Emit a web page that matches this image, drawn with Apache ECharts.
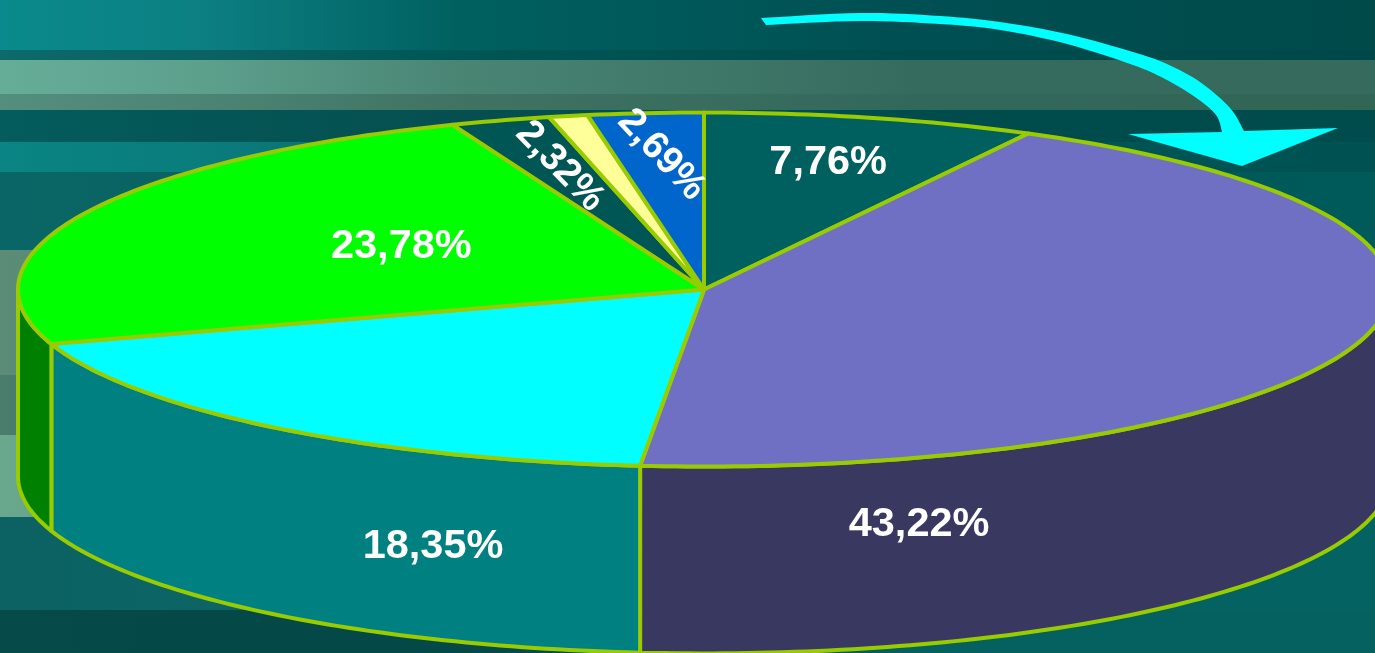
<!DOCTYPE html>
<html><head><meta charset="utf-8">
<style>html,body{margin:0;padding:0;background:#055a5a;overflow:hidden}#c{width:1375px;height:653px}</style>
<script src="https://cdn.jsdelivr.net/npm/echarts@6/dist/echarts.min.js"></script>
</head><body><div id="c"></div>
<script>
// Data: slice shares, in drawing order clockwise from 12 o'clock
var sliceValues = [7.76, 43.22, 18.35, 23.78, 2.32, 0.9, 2.69];
var sliceLabels = ['7,76%', '43,22%', '18,35%', '23,78%', '2,32%', '', '2,69%'];

// Styles
var topColors  = ['#006060', '#6F6FC4', '#00FFFF', '#00FF00', '#005555', '#FFFF99', '#0066CC'];
var wallColors = ['#004040', '#383860', '#008080', '#008000', '#003838', '#999966', '#003D7A'];
var lineColor = '#99CC00';
var depth = 1.056;   // wall height, in units of the vertical radius
// Label placement relative to the pie centre (axis units), rotation, font size
var labelX = [0.181, 0.3135, -0.395, -0.4412, -0.210, 0, -0.062];
var labelY = [0.715, -1.33, -1.455, 0.24, 0.695, 0, 0.76];
var labelRotate = [0, 0, 0, 0, -46, 0, -47];
var labelSize = [41.5, 41.5, 41.5, 41.5, 38.5, 0, 38.5];

// Background bands: y0, y1, gradient colours at x = 0, 15%, 1/3, 2/3, 1
var bands = [
  [0, 50, '#0A8A8C', '#0C7F82', '#006060', '#004F52', '#004A4A'],
  [50, 60, '#0C6A6A', '#0A6262', '#005654', '#004C4C', '#004848'],
  [60, 94, '#66AD98', '#5CA08C', '#4A8574', '#356B5F', '#356A5C'],
  [94, 110, '#548E7C', '#4C8474', '#3F7364', '#32685A', '#316656'],
  [110, 142, '#045C5C', '#045656', '#064F50', '#004C4C', '#004C4C'],
  [142, 172, '#0A8484', '#0A7C7C', '#0A6A6A', '#005656', '#005252'],
  [172, 250, '#0A6666', '#0A6262', '#085A5A', '#005858', '#005A5A'],
  [250, 375, '#5B8C78', '#558674', '#4B7D6C', '#005E5E', '#005E5E'],
  [375, 435, '#4B7D6C', '#467666', '#3F7060', '#005E5E', '#005E5E'],
  [435, 517, '#6AA88E', '#5E9A84', '#4F8A78', '#005E5E', '#005F5F'],
  [517, 610, '#0C6262', '#0C6464', '#0C6464', '#056262', '#056262'],
  [610, 653, '#064A4A', '#054848', '#054848', '#056060', '#056060']
];

var total = sliceValues.reduce(function (a, b) { return a + b; }, 0);
var sliceStart = [], acc = 0;
sliceValues.forEach(function (v) { sliceStart.push(acc / total); acc += v; });

function rimPoint(api, turn, drop) {
  var a = turn * 2 * Math.PI;
  return api.coord([Math.sin(a), Math.cos(a) - (drop || 0)]);
}
function arcPoints(api, t0, t1, drop) {
  var n = Math.max(2, Math.ceil((t1 - t0) * 360)), pts = [];
  for (var k = 0; k <= n; k++) pts.push(rimPoint(api, t0 + (t1 - t0) * k / n, drop));
  return pts;
}

function renderWall(params, api) {
  var i = params.dataIndex;
  var t0 = sliceStart[i], t1 = t0 + api.value(0) / total;
  var a = Math.max(t0, 0.25), b = Math.min(t1, 0.75);
  if (b <= a) return { type: 'group', children: [] };
  var upper = arcPoints(api, a, b, 0), lower = arcPoints(api, a, b, depth).reverse();
  return {
    type: 'polygon',
    shape: { points: upper.concat(lower) },
    style: { fill: wallColors[i], stroke: lineColor, lineWidth: 4, lineJoin: 'round' }
  };
}
function renderTop(params, api) {
  var i = params.dataIndex;
  var t0 = sliceStart[i], t1 = t0 + api.value(0) / total;
  var pts = [api.coord([0, 0])].concat(arcPoints(api, t0, t1, 0));
  return {
    type: 'polygon',
    shape: { points: pts },
    style: { fill: topColors[i], stroke: lineColor, lineWidth: 4, lineJoin: 'round' }
  };
}
function renderLabel(params, api) {
  var i = params.dataIndex;
  if (!sliceLabels[i]) return { type: 'group', children: [] };
  var p = api.coord([labelX[i], labelY[i]]);
  return {
    type: 'text',
    x: p[0], y: p[1],
    rotation: labelRotate[i] * Math.PI / 180,
    style: {
      text: sliceLabels[i], fill: '#FFFFFF', align: 'center', verticalAlign: 'middle',
      font: 'bold ' + labelSize[i] + 'px "Liberation Sans", Arial, sans-serif'
    }
  };
}

// Rotation arrow outline (decoration): edge guide points smoothed into a polygon
function smoothEdge(p, n) {
  var out = [];
  for (var s = 0; s < p.length - 1; s++) {
    var a = p[Math.max(s - 1, 0)], b = p[s], c = p[s + 1], d = p[Math.min(s + 2, p.length - 1)];
    for (var k = 0; k < n; k++) {
      var t = k / n, t2 = t * t, t3 = t2 * t;
      out.push([0, 1].map(function (j) {
        return 0.5 * (2 * b[j] + (c[j] - a[j]) * t + (2 * a[j] - 5 * b[j] + 4 * c[j] - d[j]) * t2 + (3 * b[j] - a[j] - 3 * c[j] + d[j]) * t3);
      }));
    }
  }
  out.push(p[p.length - 1]);
  return out;
}
var arrowPoints = smoothEdge([[761, 18], [860, 13], [940, 16], [1000, 22], [1067, 34], [1133, 52], [1167, 64], [1200, 82], [1230, 108], [1244, 131]], 8)
  .concat([[1338, 128], [1242, 166], [1128, 134]])
  .concat(smoothEdge([[1222, 132], [1216, 115], [1195, 97], [1165, 79], [1133, 65], [1067, 44], [1000, 30], [940, 24], [860, 21], [766, 25]], 8));

var seriesData = sliceValues.map(function (v, i) { return [v, i]; });
var graphics = bands.map(function (b) {
  return {
    type: 'rect', silent: true, z: 0,
    shape: { x: 0, y: b[0], width: 1375, height: b[1] - b[0] },
    style: { fill: new echarts.graphic.LinearGradient(0, 0, 1, 0, [
      { offset: 0, color: b[2] }, { offset: 0.15, color: b[3] }, { offset: 1 / 3, color: b[4] },
      { offset: 2 / 3, color: b[5] }, { offset: 1, color: b[6] }
    ]) }
  };
});
graphics.push({
  type: 'polygon', silent: true, z: 100,
  shape: { points: arrowPoints },
  style: { fill: '#00FFFF' }
});

var chart = echarts.init(document.getElementById('c'), null, { renderer: 'canvas' });
chart.setOption({
  animation: false,
  backgroundColor: '#055A5A',
  graphic: { elements: graphics },
  grid: { left: 18, top: 112.5, width: 1357, height: 354, containLabel: false },
  xAxis: { type: 'value', min: -1, max: 0.97813, show: false },
  yAxis: { type: 'value', min: -1, max: 1, show: false },
  series: [
    { type: 'custom', name: 'walls', clip: false, silent: true, z: 2, renderItem: renderWall, data: seriesData, encode: { x: 0, y: 1 } },
    { type: 'custom', name: 'tops', clip: false, silent: true, z: 3, renderItem: renderTop, data: seriesData, encode: { x: 0, y: 1 } },
    { type: 'custom', name: 'labels', clip: false, silent: true, z: 4, renderItem: renderLabel, data: seriesData, encode: { x: 0, y: 1 } }
  ]
});
</script></body></html>
